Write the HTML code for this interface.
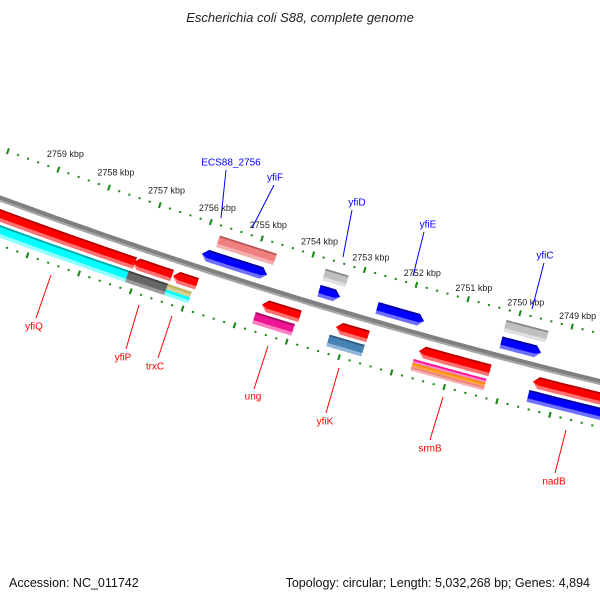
<!DOCTYPE html>
<html><head><meta charset="utf-8"><style>
html,body{margin:0;padding:0;background:#fff;}
svg{display:block;font-family:"Liberation Sans","DejaVu Sans",sans-serif;}
</style></head><body>
<svg id="s" width="600" height="600" viewBox="0 0 600 600" xmlns="http://www.w3.org/2000/svg">
<rect width="600" height="600" fill="#fff"/>
<text x="300" y="22" text-anchor="middle" font-size="13" font-style="italic" fill="#222">Escherichia coli S88, complete genome</text>
<text x="9" y="587" font-size="12.5" fill="#111">Accession: NC_011742</text>
<text x="590" y="587" text-anchor="end" font-size="12.5" fill="#111">Topology: circular; Length: 5,032,268 bp; Genes: 4,894</text>
<g id="g"></g>
</svg>
<script>
var CX=1897, CY=-4930, D=Math.PI/180;
var g=document.getElementById('g'), NS='http://www.w3.org/2000/svg';
function el(t,a,txt){var e=document.createElementNS(NS,t);for(var k in a)e.setAttribute(k,a[k]);if(txt)e.textContent=txt;g.appendChild(e);return e;}
function pt(r,a){return [CX+r*Math.cos(a*D), CY+r*Math.sin(a*D)];}
function angX(x,r){return Math.acos((x-CX)/r)/D;}
function arcPoly(r0,r1,a0,a1,n){var p=[],i;n=n||20;for(i=0;i<=n;i++){p.push(pt(r0,a0+(a1-a0)*i/n));}for(i=n;i>=0;i--){p.push(pt(r1,a0+(a1-a0)*i/n));}return p;}
function poly(p,fill){el('polygon',{points:p.map(function(q){return q[0].toFixed(1)+','+q[1].toFixed(1)}).join(' '),fill:fill});}
(function(){var p=arcPoly(5465,5471,112,102,60);poly(p,'#808080');poly(arcPoly(5469,5471,112,102,60),'#a8a8a8');})();
function ticks(r){
 for(var k=2760;k>=2746;k--){
  for(var m=0;m<5;m++){
   var kb=k-m*0.2, a=108.69+(kb-2756)*0.568;
   if(a>112||a<102)continue;
   if(m==0){var p=[pt(r-3,a+0.011),pt(r+3,a+0.011),pt(r+3,a-0.011),pt(r-3,a-0.011)];poly(p,'#1a8a1a');}
   else{var p=[pt(r-1,a+0.011),pt(r+1,a+0.011),pt(r+1,a-0.011),pt(r-1,a-0.011)];poly(p,'#1a8a1a');}
  }
 }
}
ticks(5421);ticks(5512);
for(var k=2759;k>=2749;k--){var a=108.69+(k-2756)*0.568;var q=pt(5421,a);
 el('text',{x:(q[0]+39).toFixed(1),y:(q[1]+6).toFixed(1),'font-size':'9',fill:'#222'},k+' kbp');}
var L={r1:[5478,5490],r2:[5493,5505],f1:[5448,5460],f2:[5431,5443]};
var shade={'#ff0000':['#b00000','#ff7070'],'#0000ff':['#0000a0','#6f6fff'],'#00ffff':['#00a8a8','#90ffff'],
'#666666':['#444','#999'],'#f08080':['#b85a5a','#f7b0b0'],'#c0c0c0':['#8a8a8a','#e0e0e0'],'#ee1493':['#a0105f','#ff80c0'],
'#4682b4':['#2f5f85','#8fb5d8'],'#bdb76b':['#8a8440','#ddd8a0']};
function feat(lay,x0,x1,col,dir){
 var R=L[lay],rm=(R[0]+R[1])/2,a0=angX(x0,rm),a1=angX(x1,rm),h=0.06;
 var s=shade[col]||[col,col];
 function shape(r0,r1,c){
  var p=[],n=16,i,aa0=a0,aa1=a1;
  if(dir==1)aa1=a1+h; if(dir==-1)aa0=a0-h;
  for(i=0;i<=n;i++)p.push(pt(r0,aa0+(aa1-aa0)*i/n));
  if(dir==1)p.push(pt(rm,a1));
  for(i=n;i>=0;i--)p.push(pt(r1,aa0+(aa1-aa0)*i/n));
  if(dir==-1)p.push(pt(rm,a0));
  poly(p,c);
 }
 var t=R[1]-R[0];
 shape(R[0],R[1],s[1]);
 shape(R[0],R[0]+t*0.7,col);
 shape(R[0],R[0]+t*0.15,s[0]);
}
function stack(lay,x0,x1,cols){var R=L[lay],rm=(R[0]+R[1])/2,a0=angX(x0,rm),a1=angX(x1,rm),t=(R[1]-R[0])/cols.length;
 for(var i=0;i<cols.length;i++)poly(arcPoly(R[0]+i*t,R[0]+(i+1)*t,a0,a1,16),cols[i]);}
feat('r1',-40,135,'#ff0000',0);
feat('r2',-40,128,'#00ffff',0);
feat('r1',133,172,'#ff0000',-1);
feat('r2',127,167,'#666666',0);
feat('r1',173,197,'#ff0000',-1);
stack('r2',166,190,['#bdb76b','#d8d090','#00ffff','#80ffff']);
feat('r1',262,300,'#ff0000',-1);
feat('r2',254,293,'#ee1493',0);
feat('r1',336,368,'#ff0000',-1);
feat('r2',328,363,'#4682b4',0);
feat('r1',419,490,'#ff0000',-1);
stack('r2',412,485,['#ff1493','#ff80c8','#ff8c00','#ffa040','#f08080','#f4b0b0']);
feat('r1',533,640,'#ff0000',-1);
feat('r2',528,640,'#0000ff',0);
feat('f1',202,213,'#0000ff',-1);
feat('f1',212,267,'#0000ff',1);
feat('f2',218,275,'#f08080',0);
feat('f2',324,347,'#c0c0c0',0);
feat('f1',319,340,'#0000ff',1);
feat('f1',377,424,'#0000ff',1);
feat('f2',505,547,'#c0c0c0',0);
feat('f1',501,541,'#0000ff',1);
function lab(t,cx,cy,x1,y1,x2,y2,c){el('line',{x1:x1,y1:y1,x2:x2,y2:y2,stroke:c,'stroke-width':1});
 el('text',{x:cx,y:cy+3.5,'text-anchor':'middle','font-size':'10',fill:c},t);}
var B='#0000ff',Rr='#ff0000';
lab('ECS88_2756',231,162,226,170,221,218,B);
lab('yfiF',275,177,274,185,252,228,B);
lab('yfiD',357,202,352,210,343,257,B);
lab('yfiE',428,224,424,232,413,276,B);
lab('yfiC',545,255,544,263,532,309,B);
lab('yfiQ',34,326,51,275,36,318,Rr);
lab('yfiP',123,357,139,305,126,349,Rr);
lab('trxC',155,366,172,316,158,358,Rr);
lab('ung',253,396,268,346,254,389,Rr);
lab('yfiK',325,421,339,368,326,413,Rr);
lab('srmB',430,448,443,397,430,440,Rr);
lab('nadB',554,481,566,430,555,473,Rr);
</script>
</body></html>
